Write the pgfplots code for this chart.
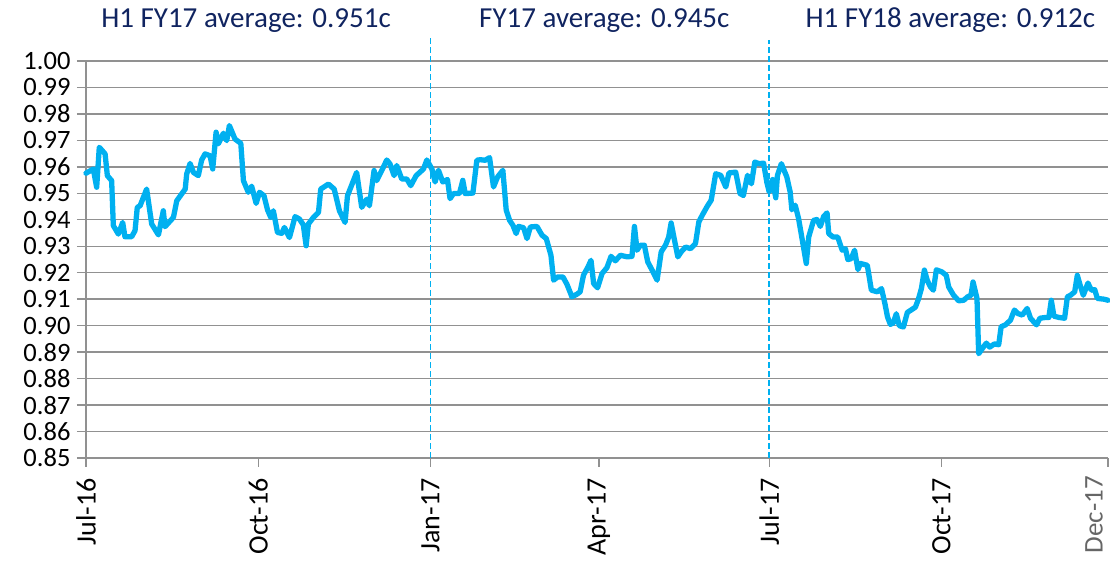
\documentclass[border=0pt]{standalone}
\usepackage{pgfplots}
\pgfplotsset{compat=1.18}
\usepackage{fontspec}
\setmainfont{Carlito}
\definecolor{lineblue}{RGB}{0,176,240}
\definecolor{navy}{RGB}{16,36,96}
\definecolor{gridgray}{RGB}{145,145,145}
\begin{document}
\begin{tikzpicture}
\path[use as bounding box] (-86pt,-103pt) rectangle (1024pt,458pt);
\begin{axis}[
  at={(0pt,0pt)}, anchor=south west,
  scale only axis, width=1022pt, height=397pt,
  xmin=0, xmax=546, ymin=0.85, ymax=1.00,
  clip=false,
  axis x line=bottom, axis y line=left,
  axis line style={-, gridgray, line width=1.4pt},
  ymajorgrids, grid style={gridgray, line width=1.4pt},
  tick align=outside, major tick length=9pt,
  tick style={gridgray, line width=1.4pt},
  ytick={0.85,0.86,0.87,0.88,0.89,0.90,0.91,0.92,0.93,0.94,0.95,0.96,0.97,0.98,0.99,1.00},
  yticklabel style={/pgf/number format/fixed, /pgf/number format/fixed zerofill, /pgf/number format/precision=2, font=\fontsize{26.5}{28}\selectfont},
  yticklabel shift=3pt,
  /pgf/number format/assume math mode=true,
  xtick={0,92,184,274,365,457},
  xticklabels={Jul-16,Oct-16,Jan-17,Apr-17,Jul-17,Oct-17},
  xticklabel style={rotate=90, anchor=east, font=\fontsize{28}{30}\selectfont},
  xticklabel shift=8pt,
  extra x ticks={546},
  extra x tick labels={Dec-17},
  extra x tick style={xticklabel style={yshift=14pt, text=black!60, inner sep=1pt, font=\fontsize{27}{29}\selectfont}},
]
\addplot[lineblue, line width=5.3pt, line join=round, line cap=round] coordinates {
(0,0.9576) (3.9,0.9592) (5.7,0.9523) (7.1,0.9674) (10.2,0.9649) (11.4,0.9567) (13.7,0.9548) (14.6,0.9378)
(17.3,0.9346) (19.6,0.9390) (20.8,0.9336) (24.4,0.9336) (26.2,0.9359) (27.4,0.9447) (28.9,0.9453) (32.4,0.9516)
(35.1,0.9384) (38.7,0.9343) (41.3,0.9434) (42.2,0.9374) (46.7,0.9409) (48.5,0.9472) (53.0,0.9516) (53.8,0.9573)
(55.6,0.9613) (57.4,0.9579) (60.0,0.9567) (61.8,0.9626) (63.6,0.9649) (66.3,0.9642) (67.7,0.9592) (69.5,0.9731)
(70.7,0.9687) (73.4,0.9727) (75.2,0.9699) (76.6,0.9756) (79.6,0.9705) (82.7,0.9689) (84.1,0.9548) (86.7,0.9504)
(88.5,0.9527) (90.9,0.9462) (92.7,0.9504) (95.1,0.9491) (97.0,0.9437) (98.7,0.9409) (100.1,0.9434) (102.3,0.9352)
(104.6,0.9349) (106.0,0.9371) (108.7,0.9333) (111.7,0.9412) (114.0,0.9403) (116.1,0.9381) (117.6,0.9302) (118.8,0.9384)
(121.5,0.9409) (124.2,0.9428) (125.4,0.9516) (129.5,0.9535) (132.6,0.9516) (135.4,0.9434) (138.4,0.9390) (139.7,0.9491)
(144.6,0.9579) (147.3,0.9447) (150.0,0.9478) (151.4,0.9453) (153.9,0.9586) (155.3,0.9548) (157.5,0.9579) (160.7,0.9626)
(162.4,0.9611) (164.6,0.9567) (166.0,0.9605) (168.7,0.9554) (171.4,0.9554) (173.5,0.9529) (176.4,0.9567) (180.3,0.9592)
(182.1,0.9626) (184.8,0.9592) (186.5,0.9543) (188.3,0.9587) (190.6,0.9543) (193.1,0.9552) (194.5,0.9480) (196.3,0.9499)
(199.5,0.9499) (201.3,0.9549) (202.6,0.9499) (206.7,0.9501) (208.8,0.9625) (210.6,0.9627) (213.3,0.9625) (215.6,0.9635)
(217.7,0.9524) (219.9,0.9562) (222.7,0.9587) (224.5,0.9436) (226.3,0.9398) (228.1,0.9379) (229.8,0.9348) (231.1,0.9375)
(233.8,0.9370) (235.6,0.9329) (237.4,0.9373) (240.9,0.9375) (243.6,0.9342) (245.9,0.9329) (248.4,0.9266) (249.8,0.9172)
(252.0,0.9184) (254.8,0.9184) (256.9,0.9157) (259.6,0.9109) (262.3,0.9119) (264.0,0.9128) (265.8,0.9191) (268.2,0.9222)
(269.8,0.9247) (271.2,0.9159) (273.3,0.9143) (275.7,0.9197) (278.3,0.9219) (280.5,0.9262) (282.8,0.9245) (285.5,0.9266)
(289.1,0.9260) (291.7,0.9262) (293.0,0.9375) (294.4,0.9285) (296.2,0.9304) (298.3,0.9304) (300.1,0.9241) (302.5,0.9209)
(305.1,0.9172) (307.3,0.9279) (309.6,0.9304) (311.3,0.9335) (312.6,0.9388) (314.4,0.9323) (316.2,0.9260) (318.0,0.9279)
(320.3,0.9297) (322.9,0.9291) (325.6,0.9310) (327.4,0.9392) (329.2,0.9417) (331.9,0.9451) (334.0,0.9474) (336.4,0.9574)
(339.1,0.9568) (341.8,0.9524) (343.5,0.9577) (347.1,0.9580) (349.4,0.9499) (351.2,0.9492) (353.4,0.9568) (355.5,0.9536)
(357.3,0.9618) (359.6,0.9612) (362.0,0.9614) (363.7,0.9543) (365.0,0.9505) (366.8,0.9552) (368.5,0.9483) (369.4,0.9568)
(371.5,0.9612) (374.4,0.9562) (376.2,0.9505) (377.1,0.9438) (378.9,0.9455) (380.7,0.9404) (383.0,0.9310) (384.8,0.9235)
(386.1,0.9335) (388.7,0.9398) (390.5,0.9401) (392.3,0.9375) (394.1,0.9413) (395.9,0.9426) (396.8,0.9348) (399.1,0.9335)
(401.6,0.9335) (404.0,0.9285) (405.7,0.9291) (407.0,0.9250) (408.8,0.9253) (410.6,0.9285) (412.4,0.9212) (413.8,0.9235)
(417.4,0.9228) (419.6,0.9134) (422.8,0.9128) (425.0,0.9140) (426.8,0.9084) (428.2,0.9033) (429.7,0.9005) (431.3,0.9010)
(432.9,0.9045) (434.5,0.9000) (436.7,0.8995) (438.8,0.9050) (441.0,0.9060) (443.1,0.9070) (444.7,0.9100) (446.3,0.9140)
(447.9,0.9210) (449.5,0.9170) (451.1,0.9147) (452.7,0.9134) (454.3,0.9211) (457.3,0.9203) (459.6,0.9190) (460.9,0.9146)
(463.5,0.9115) (466.2,0.9094) (468.9,0.9096) (471.0,0.9109) (472.8,0.9115) (473.9,0.9165) (476.0,0.9103) (476.9,0.8894)
(479.6,0.8921) (481.0,0.8934) (482.8,0.8919) (485.3,0.8931) (487.6,0.8928) (488.9,0.8996) (491.2,0.9003) (493.9,0.9021)
(496.0,0.9059) (497.8,0.9046) (500.2,0.9040) (502.8,0.9065) (504.6,0.9028) (507.8,0.9003) (509.6,0.9028) (512.6,0.9031)
(514.4,0.9031) (515.7,0.9096) (517.1,0.9036) (519.8,0.9031) (522.8,0.9028) (524.3,0.9109) (526.0,0.9115) (528.2,0.9128)
(529.6,0.9190) (531.4,0.9146) (532.8,0.9115) (535.3,0.9161) (537.1,0.9134) (538.9,0.9136) (540.3,0.9103) (543.9,0.9100)
(546,0.9096)
};
\draw[lineblue, line width=1.6pt, dash pattern=on 6pt off 3pt] (axis cs:184,0.85) -- (axis cs:184,1.0085);
\draw[lineblue, line width=1.6pt, dash pattern=on 6pt off 3pt] (axis cs:365,0.85) -- (axis cs:365,1.0080);
\node[navy, font=\fontsize{29}{31}\selectfont, anchor=base] at (axis cs:85.5,1.0125) {H1 FY17 average: 0.951c};
\node[navy, font=\fontsize{29}{31}\selectfont, anchor=base] at (axis cs:276.9,1.0125) {FY17 average: 0.945c};
\node[navy, font=\fontsize{29}{31}\selectfont, anchor=base] at (axis cs:461.8,1.0125) {H1 FY18 average: 0.912c};
\end{axis}
\end{tikzpicture}
\end{document}
